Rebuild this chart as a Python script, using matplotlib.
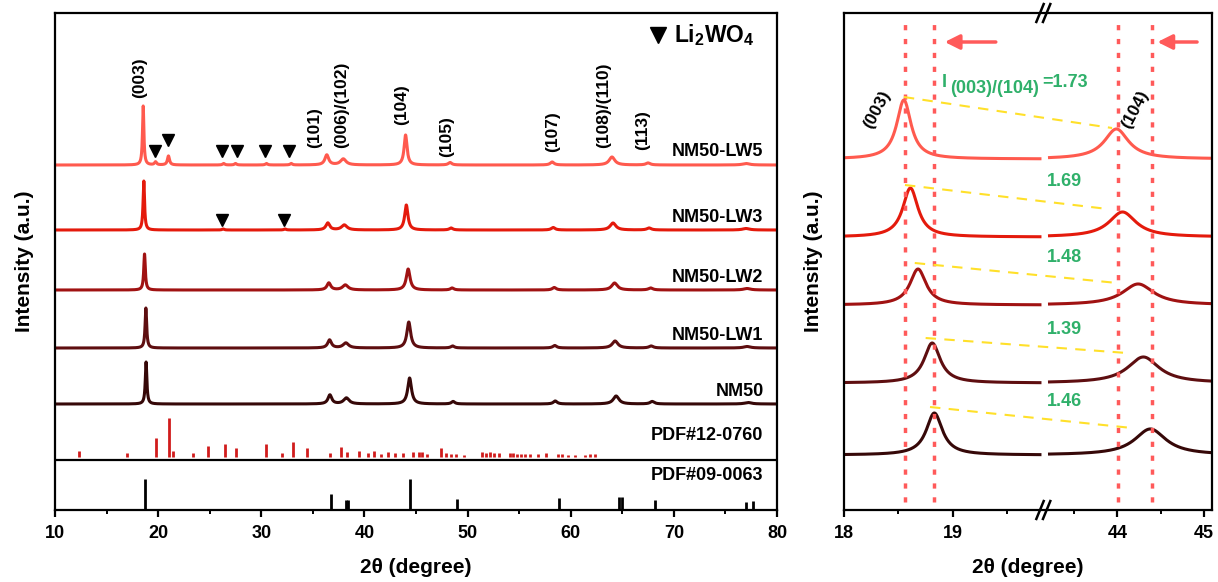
import numpy as np
import matplotlib
matplotlib.use('Agg')
import matplotlib.pyplot as plt
import matplotlib.transforms as mtransforms

plt.rcParams['font.family'] = ['Liberation Sans', 'DejaVu Sans']
plt.rcParams['font.weight'] = 'bold'
plt.rcParams['mathtext.fontset'] = 'custom'
plt.rcParams['mathtext.rm'] = 'Liberation Sans:bold'
plt.rcParams['mathtext.bf'] = 'Liberation Sans:bold'
plt.rcParams['mathtext.it'] = 'Liberation Sans:bold:italic'

# ---- data ----
samples = ['NM50-LW5', 'NM50-LW3', 'NM50-LW2', 'NM50-LW1', 'NM50']
colors = ['#ff5a4e', '#e41a0c', '#a01212', '#5e0e10', '#360808']

hkl = ['(003)', '(101)', '(006)/(102)', '(104)', '(105)', '(107)', '(108)/(110)', '(113)', '']
peak_pos = [
    [18.55, 36.35, 37.95, 43.99, 48.3, 58.2, 64.0, 67.5, 77.0],
    [18.61, 36.45, 38.05, 44.06, 48.4, 58.3, 64.1, 67.6, 77.0],
    [18.68, 36.55, 38.15, 44.24, 48.5, 58.4, 64.25, 67.75, 77.1],
    [18.81, 36.62, 38.2, 44.30, 48.55, 58.45, 64.3, 67.8, 77.1],
    [18.83, 36.65, 38.25, 44.38, 48.6, 58.5, 64.4, 67.9, 77.2],
]
peak_hgt = [
    [59, 10, 6, 30, 2.5, 3, 8, 2, 1.5],
    [49, 7, 5, 25, 2, 2.5, 7, 2, 1.5],
    [36, 7, 5, 21, 2, 2.5, 7, 2, 1.5],
    [40, 8, 5, 26, 2, 2.5, 7, 2, 1.5],
    [42, 9, 6, 26, 2.5, 3, 8, 2.5, 1.5],
]
peak_hw = [
    [0.08, 0.22, 0.32, 0.17, 0.2, 0.22, 0.33, 0.25, 0.4],
    [0.085, 0.22, 0.32, 0.19, 0.2, 0.22, 0.33, 0.25, 0.4],
    [0.09, 0.22, 0.32, 0.22, 0.2, 0.22, 0.33, 0.25, 0.4],
    [0.09, 0.22, 0.32, 0.22, 0.2, 0.22, 0.33, 0.25, 0.4],
    [0.09, 0.22, 0.32, 0.22, 0.2, 0.22, 0.33, 0.25, 0.4],
]
# Li2WO4 impurity reflections
lw_pos = [[19.75, 21.0, 26.35, 27.5, 30.5, 32.9], [26.3, 32.3], [], [], []]
lw_hgt = [[3, 9, 1.5, 1.5, 1.5, 1.5], [1, 1], [], [], []]
lw_mark = [[19.7, 21.0, 26.2, 27.6, 30.4, 32.7], [26.2, 32.2], [], [], []]

pdf12_pos = [12.33, 16.98, 19.8, 21.03, 21.4, 23.4, 24.8, 26.5, 27.5, 30.5, 32.0, 33.1,
             34.4, 36.7, 37.7, 38.3, 39.5, 40.3, 40.9, 41.6, 42.3, 43.0, 43.7, 44.7,
             45.3, 45.6, 46.1, 47.4, 47.9, 48.4, 48.9, 49.7, 51.4, 51.8, 52.2, 52.6,
             53.0, 54.1, 54.4, 54.8, 55.2, 55.6, 56.1, 56.8, 57.6, 58.8, 59.2, 59.7,
             60.4, 61.4, 61.9, 62.4]
pdf12_hgt = [6, 4, 19, 39, 6, 4, 11, 13, 9, 13, 4, 15,
             9, 4, 10, 5, 6, 4, 6, 3, 5, 4, 4, 5,
             5, 5, 3, 9, 4, 3, 3, 2, 5, 4, 5, 4,
             4, 4, 4, 3, 3, 3, 3, 3, 4, 3, 3, 2,
             2, 2, 3, 3]
pdf09_pos = [18.75, 36.75, 38.2, 38.45, 44.42, 48.95, 58.85, 64.7, 64.95, 68.2, 77.0, 77.7]
pdf09_hgt = [31, 16, 10, 10, 31, 11, 12, 13, 13, 10, 8, 9]

ratios = ['1.73', '1.69', '1.48', '1.39', '1.46']

# layout (vertical offsets in panel units)
offL = [345, 280, 220, 162, 106]
offR = [351, 273, 205, 127, 55]
pdf12_base = 53
divider = 50


def pattern(x, pos, hgt, hw):
    y = np.zeros_like(x)
    for p, h, w in zip(pos, hgt, hw):
        y += h / (1 + ((x - p) / w) ** 2)
    return y


fig = plt.figure(figsize=(12.18, 5.82), dpi=100)
W, H = 1218, 582
axL = fig.add_axes([55 / W, 1 - 510 / H, 722 / W, 497 / H])
axR = fig.add_axes([844 / W, 1 - 510 / H, 368 / W, 497 / H])

for ax in (axL, axR):
    for s in ax.spines.values():
        s.set_linewidth(1.6)
    ax.set_ylim(0, 497)
    ax.set_yticks([])
    ax.tick_params(axis='x', which='major', direction='out', length=5, width=1.6,
                   labelsize=13, pad=6)
    ax.tick_params(axis='x', which='minor', direction='out', length=3, width=1.4)
    ax.set_ylabel('Intensity (a.u.)', fontsize=15, fontweight='bold', labelpad=15)
    ax.set_xlabel('2θ (degree)', fontsize=15, fontweight='bold', labelpad=11)

# ---- left panel ----
x = np.linspace(10, 80, 7000)
for i in range(len(samples)):
    y = pattern(x, peak_pos[i] + lw_pos[i], peak_hgt[i] + lw_hgt[i], peak_hw[i] + [0.12] * len(lw_pos[i]))
    axL.plot(x, y + offL[i], color=colors[i], lw=2.2)
    axL.text(78.7, offL[i] + 13, samples[i], ha='right', va='center', fontsize=13, fontweight='bold')

mark_dy = [[14, 25, 14, 14, 14, 14], [10, 10]]
for i in range(2):
    axL.plot(lw_mark[i], [offL[i] + d for d in mark_dy[i]], 'v', color='black', ms=8, ls='none')

axL.vlines(pdf12_pos, pdf12_base, [pdf12_base + h for h in pdf12_hgt], color='#d01c1c', lw=2)
axL.vlines(pdf09_pos, 0, pdf09_hgt, color='black', lw=2)
axL.axhline(divider, color='black', lw=1.6)
axL.text(78.7, 75, 'PDF#12-0760', ha='right', va='center', fontsize=13, fontweight='bold')
axL.text(78.7, 35, 'PDF#09-0063', ha='right', va='center', fontsize=13, fontweight='bold')

lab_x = [18.24, 35.2, 37.8, 43.6, 48.0, 58.2, 63.2, 67.0]
lab_y = [412, 362, 362, 385, 353, 358, 362, 360]
for t, lx, ly in zip(hkl, lab_x, lab_y):
    axL.text(lx, ly, t, rotation=90, ha='center', va='bottom', fontsize=12.5, fontweight='heavy')

axL.plot([68.5], [475], 'v', color='black', ms=12)
axL.text(70.0, 475, r'$\mathbf{Li_2WO_4}$', ha='left', va='center', fontsize=16.5)

axL.set_xlim(10, 80)
axL.set_xticks(np.arange(10, 81, 10))
axL.set_xticks(np.arange(15, 80, 10), minor=True)

# ---- right panel: broken axis through a piecewise scale ----
b0, b1 = 19.83, 43.15
sL, sR, eps = 109.0, 87.0, 0.01


def fwd(v):
    v = np.asarray(v, dtype=float)
    gap0 = (b0 - 18) * sL
    gap1 = gap0 + (b1 - b0) * eps
    return np.where(v <= b0, (v - 18) * sL,
                    np.where(v >= b1, gap1 + (v - b1) * sR, gap0 + (v - b0) * eps))


def inv(u):
    u = np.asarray(u, dtype=float)
    gap0 = (b0 - 18) * sL
    gap1 = gap0 + (b1 - b0) * eps
    return np.where(u <= gap0, 18 + u / sL,
                    np.where(u >= gap1, b1 + (u - gap1) / sR, b0 + (u - gap0) / eps))


axR.set_xscale('function', functions=(fwd, inv))
axR.set_xlim(18, 45.09)
axR.set_xticks([18, 19, 44, 45])
axR.set_xticks([18.5, 19.5, 43.5, 44.5], minor=True)
axR.set_xticklabels(['18', '19', '44', '45'])

xa = np.linspace(18, 19.80, 600)
xb = np.linspace(43.22, 45.09, 600)
for i in range(len(samples)):
    for xs in (xa, xb):
        axR.plot(xs, pattern(xs, peak_pos[i], peak_hgt[i], peak_hw[i]) + offR[i], color=colors[i], lw=2.2)

red = '#ff5a5a'
axR.vlines([18.56, 18.83, 44.01, 44.40], 8, 490, color=red, lw=2.5, linestyles=[(0, (1.5, 2.5))])
axR.annotate('', xy=(18.9, 468), xytext=(19.42, 468),
             arrowprops=dict(arrowstyle='-|>', color=red, lw=2.5, mutation_scale=22))
axR.annotate('', xy=(44.43, 468), xytext=(44.95, 468),
             arrowprops=dict(arrowstyle='-|>', color=red, lw=2.5, mutation_scale=22))

yel_x0 = [18.55, 18.56, 18.65, 18.75, 18.79]
yel_y0 = [413, 325, 247, 172, 103]
yel_x1 = [43.94, 43.89, 44.0, 44.11, 44.17]
yel_y1 = [382, 301, 227, 157, 82]
for i in range(5):
    axR.plot([yel_x0[i], yel_x1[i]], [yel_y0[i], yel_y1[i]], color='#ffe02a', lw=1.5, ls=(0, (5, 4)))

green = '#2fb06a'
tb = mtransforms.blended_transform_factory(axR.transAxes, axR.transData)
axR.text(0.266, 423, 'I', transform=tb, color=green, fontsize=13, fontweight='bold', va='baseline')
axR.text(0.288, 417, '(003)/(104)', transform=tb, color=green, fontsize=13, fontweight='bold', va='baseline')
axR.text(0.538, 423, '=' + ratios[0], transform=tb, color=green, fontsize=13, fontweight='bold', va='baseline')
ry = [328, 252, 180, 108]
for r, yy in zip(ratios[1:], ry):
    axR.text(0.60, yy, r, transform=tb, color=green, fontsize=13, fontweight='bold', ha='center', va='center')

axR.text(18.30, 400, '(003)', rotation=62, ha='center', va='center', fontsize=12.5, fontweight='heavy')
axR.text(44.20, 401, '(104)', rotation=62, ha='center', va='center', fontsize=12.5, fontweight='heavy')

# break marks on top and bottom spines
bx = (fwd(b0) + 0.5 * (b1 - b0) * eps) / fwd(45.09)
for yb in (0, 1):
    for dx in (-0.009, 0.009):
        axR.plot([bx + dx - 0.01, bx + dx + 0.01], [yb - 0.018, yb + 0.018], transform=axR.transAxes,
                 color='black', lw=1.8, clip_on=False)

fig.savefig('out.png', dpi=100)
